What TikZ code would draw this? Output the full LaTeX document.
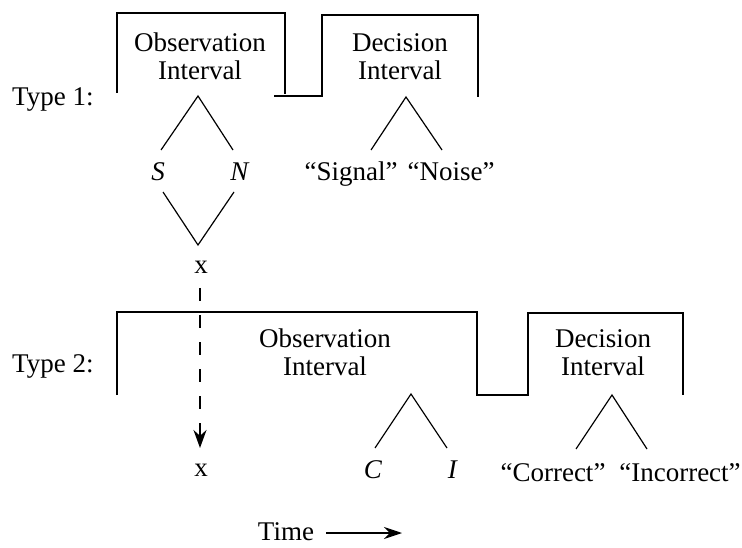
\documentclass[tikz,border=0pt]{standalone}
\usepackage{fontspec}
\setmainfont{Liberation Serif}
\usetikzlibrary{arrows.meta}
\begin{document}
\begin{tikzpicture}[x=1pt,y=-1pt,
  wave/.style={line width=1.8pt,line join=miter},
  branch/.style={line width=1.2pt},
  lbl/.style={inner sep=0pt,font=\fontsize{27}{28}\selectfont},
  two/.style={lbl,align=center,anchor=center},
  one/.style={lbl,anchor=base}]
\useasboundingbox (0,0) rectangle (742,548);
% ---- Type 1 ----
\node[one,anchor=base west] (type1) at (12,106) {Type 1:};
\draw[wave] (117,93) -- (117,13) -- (285,13) -- (285,94);
\draw[wave] (274,96) -- (322,96) -- (322,15) -- (478,15) -- (478,97);
\node[two] (obs1) at (200,56) {Observation\\Interval};
\node[two] (dec1) at (400,57) {Decision\\Interval};
\coordinate (a1) at (198,96);
\coordinate (a1l) at (161,150);
\coordinate (a1r) at (233,150);
\draw[branch] (a1l) -- (a1) -- (a1r);
\node[one] (S) at (158,181) {\textit{S}};
\node[one] (N) at (240,181) {\textit{N}};
\coordinate (v1l) at (163,192);
\coordinate (v1) at (198,245);
\coordinate (v1r) at (234,192);
\draw[branch] (v1l) -- (v1) -- (v1r);
\node[one] (x1) at (201,274) {x};
\coordinate (d1) at (406,97);
\coordinate (d1l) at (371,150);
\coordinate (d1r) at (442,150);
\draw[branch] (d1l) -- (d1) -- (d1r);
\node[one] (sig) at (351,181) {“Signal”};
\node[one] (noi) at (451,181) {“Noise”};
% ---- Type 2 ----
\node[one,anchor=base west] (type2) at (12,372) {Type 2:};
\draw[wave] (117,395) -- (117,312) -- (477,312) -- (477,395) -- (528,395)
  -- (528,313) -- (683,313) -- (683,395);
\node[two] (obs2) at (325,352) {Observation\\Interval};
\node[two] (dec2) at (603,353) {Decision\\Interval};
\coordinate (c2) at (411,394);
\coordinate (c2l) at (375,448);
\coordinate (c2r) at (447,448);
\draw[branch] (c2l) -- (c2) -- (c2r);
\node[one] (C) at (373,478) {\textit{C}};
\node[one] (I) at (453,478) {\textit{I}};
\coordinate (d2) at (612,395);
\coordinate (d2l) at (576,449);
\coordinate (d2r) at (647,449);
\draw[branch] (d2l) -- (d2) -- (d2r);
\node[one] (cor) at (553,481) {“Correct”};
\node[one] (inc) at (680,481) {“Incorrect”};
\node[one] (x2) at (201,476) {x};
% dashed arrow
\coordinate (dtop) at (200,288);
\coordinate (dbot) at (200,448);
\draw[line width=1.5pt,dash pattern=on 13pt off 14pt,
  -{Stealth[length=18pt,width=13pt]}] (dtop) -- (dbot);
% time
\node[one] (time) at (286,540) {Time};
\coordinate (tstart) at (326,533);
\coordinate (tend) at (402,533);
\draw[line width=1.1pt,-{Stealth[length=18pt,width=12pt,inset=6pt]}]
  (tstart) -- (tend);
\end{tikzpicture}
\end{document}
